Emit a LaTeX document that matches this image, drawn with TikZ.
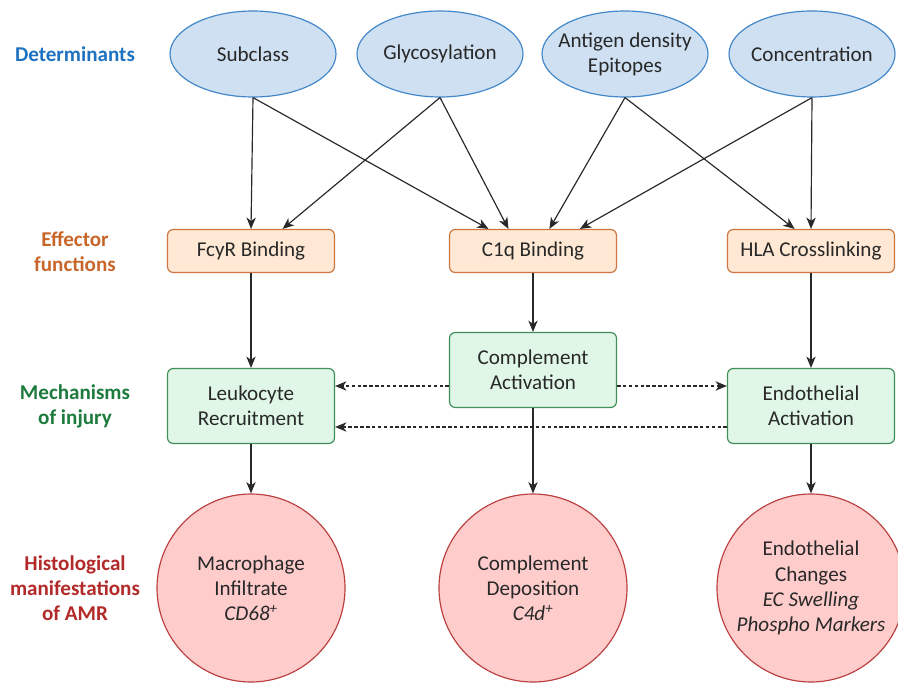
\documentclass[tikz,border=0pt]{standalone}
\usepackage{fontspec}
\setmainfont{Carlito}
\usetikzlibrary{arrows.meta,positioning,shapes.geometric}
\definecolor{detblue}{RGB}{31,114,192}
\definecolor{effor}{RGB}{200,102,42}
\definecolor{mechgr}{RGB}{30,123,62}
\definecolor{histred}{RGB}{178,42,42}
\definecolor{inkgray}{RGB}{40,40,40}

\begin{document}
\begin{tikzpicture}[x=0.03cm, y=-0.03cm,
  every node/.style={font=\fontsize{18}{21.5}\selectfont, text=inkgray, align=center},
  lbl/.style={font=\fontsize{18}{21.5}\selectfont\bfseries},
  det/.style={ellipse, draw=detblue!85, fill=detblue!22, line width=1pt,
              minimum width=4.98cm, minimum height=2.58cm, inner xsep=-0.3cm, inner ysep=1pt},
  eff/.style={draw=effor!90, fill=orange!17, rounded corners=5pt, line width=1pt,
              minimum width=5.01cm, minimum height=1.29cm},
  mech/.style={draw=mechgr!85, fill=green!50!teal!12, rounded corners=5pt, line width=1pt,
               minimum width=5.01cm, minimum height=2.25cm},
  hist/.style={circle, draw=histred!90, fill=red!20, line width=1pt,
               minimum size=5.64cm, inner sep=0pt},
  arr/.style={-{Stealth[length=3.4mm, width=2.8mm, inset=1mm]}, line width=1pt, draw=inkgray},
  darr/.style={arr, densely dashed},
]
\useasboundingbox (0,0) rectangle (898,684);
% row labels
\node[lbl, text=detblue] (ldet)  at (75,54)  {Determinants};
\node[lbl, text=effor]   (leff)  at (75,252) {Effector\\functions};
\node[lbl, text=mechgr]  (lmech) at (75,406) {Mechanisms\\of injury};
\node[lbl, text=histred] (lhist) at (75,588) {Histological\\manifestations\\of AMR};
% determinants (top row)
\node[det] (sub)  at (253,54) {Subclass};
\node[det] (gly)  at (440,54) {Glycosylation\vphantom{Sb}};
\node[det] (agd)  at (625,54) {Antigen density\\Epitopes};
\node[det] (conc) at (812,54) {Concentration};
% effector functions
\node[eff] (fcr) at (251,251) {FcyR Binding};
\node[eff] (c1q) at (533,251) {C1q Binding};
\node[eff] (hla) at (811,251) {HLA Crosslinking};
% mechanisms of injury
\node[mech] (leu)  at (251,406) {Leukocyte\\Recruitment};
\node[mech] (cact) at (533,370) {Complement\\Activation};
\node[mech] (eact) at (811,406) {Endothelial\\Activation};
% histological manifestations
\node[hist] (mac)  at (251,588) {Macrophage\\Infiltrate\\\textit{CD68\textsuperscript{+}}};
\node[hist] (cdep) at (533,588) {Complement\\Deposition\\\textit{C4d\textsuperscript{+}}};
\node[hist] (ech)  at (811,588) {Endothelial\\Changes\\\textit{EC Swelling}\\\textit{Phospho Markers}};
% determinants to effectors
\draw[arr] (sub.south) -- (fcr.north);
\draw[arr] (sub.south) -- ([xshift=-38]c1q.north);
\draw[arr] (gly.south) -- ([xshift=27]fcr.north);
\draw[arr] (gly.south) -- ([xshift=-21]c1q.north);
\draw[arr] (agd.south) -- ([xshift=14]c1q.north);
\draw[arr] (agd.south) -- ([xshift=-14]hla.north);
\draw[arr] (conc.south) -- ([xshift=40]c1q.north);
\draw[arr] (conc.south) -- (hla.north);
% effectors to mechanisms
\draw[arr] (fcr) -- (leu);
\draw[arr] (c1q) -- (cact);
\draw[arr] (hla) -- (eact);
% cross talk
\draw[darr] (cact.west |- 0,386) -- (leu.east |- 0,386);
\draw[darr] (cact.east |- 0,386) -- (eact.west |- 0,386);
\draw[darr] (eact.west |- 0,427) -- (leu.east |- 0,427);
% mechanisms to histology
\draw[arr] (leu) -- (mac);
\draw[arr] (cact) -- (cdep);
\draw[arr] (eact) -- (ech);
\end{tikzpicture}
\end{document}
